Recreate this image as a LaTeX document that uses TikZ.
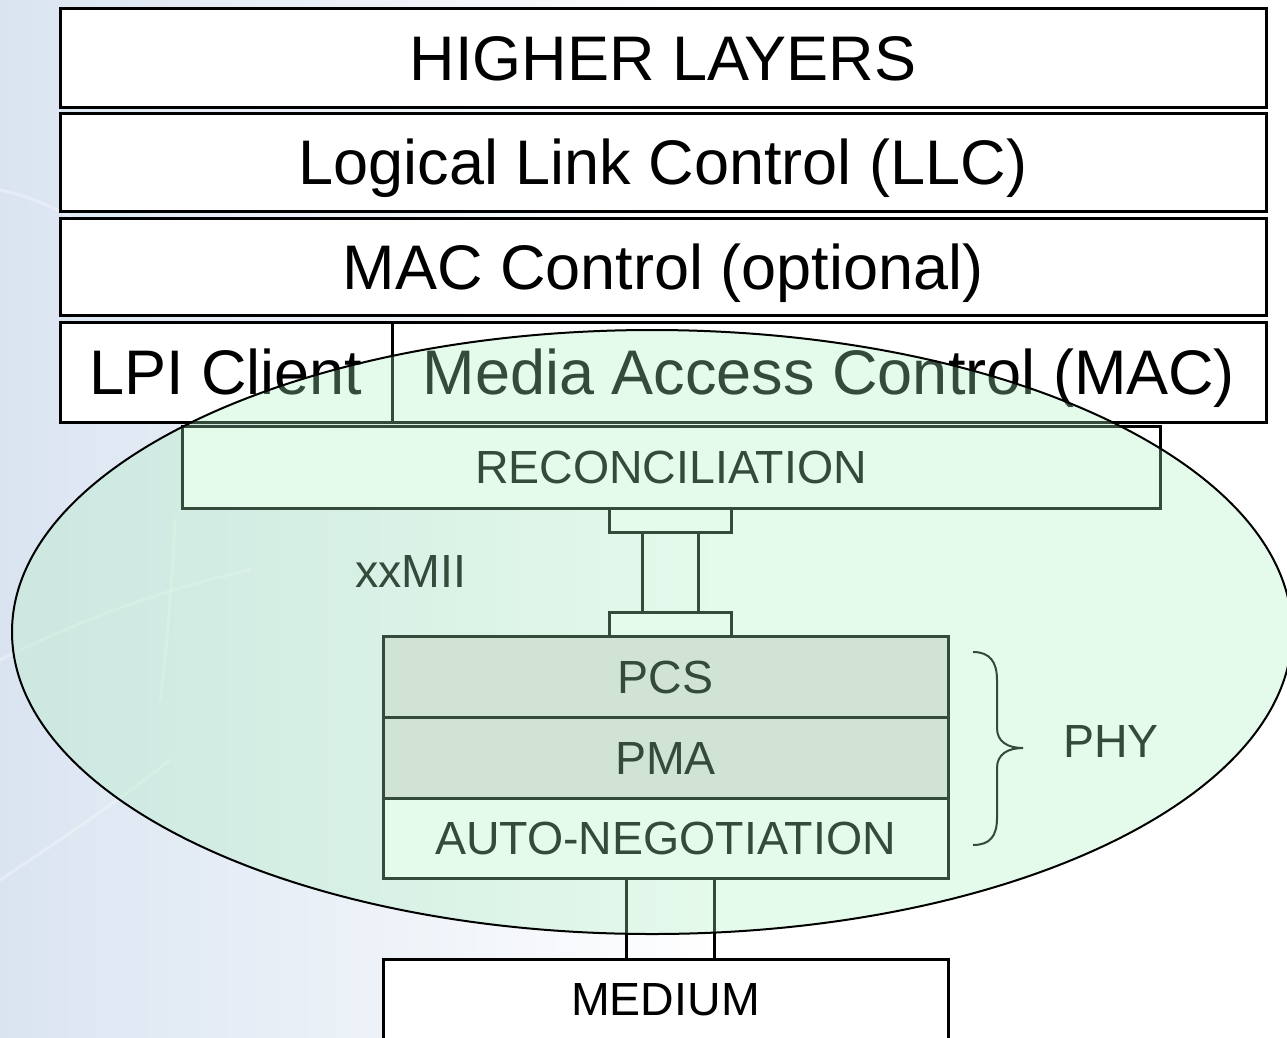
\documentclass[tikz,border=0pt]{standalone}
\usepackage{fontspec}
\setmainfont{Liberation Sans}
\usetikzlibrary{positioning}
\definecolor{bgblue}{RGB}{218,228,241}
\definecolor{ovgreen}{RGB}{171,239,190}
\definecolor{subgray}{RGB}{226,223,222}
\newcommand{\bigtxt}{\fontsize{63}{70}\selectfont}
\newcommand{\smalltxt}{\fontsize{46.5}{52}\selectfont}
\begin{document}
\begin{tikzpicture}[x=1pt, y=-1pt,
  lay/.style={draw=black, fill=white, line width=3pt, inner sep=0pt, outer sep=0pt,
        font=\bigtxt, text height=45pt, text depth=0pt},
  sub/.style={lay, font=\smalltxt, text height=33pt, minimum width=565pt, minimum height=81pt},
  pad/.style={draw=black, fill=white, line width=3pt, inner sep=0pt, outer sep=0pt,
        minimum width=122pt, minimum height=24pt},
  lbl/.style={font=\smalltxt, inner sep=0pt, anchor=base west},
  swoosh/.style={white, line width=3pt, opacity=0.3, line cap=round},
]
  \useasboundingbox (0,0) rectangle (1287,1037);
  \fill[white] (0,0) rectangle (1287,1037);
  \shade[left color=bgblue, right color=white] (0,0) rectangle (720,1037);
  \draw[swoosh] (0,190) .. controls (50,200) and (100,230) .. (140,270);
  \draw[swoosh] (0,660) .. controls (80,620) and (160,590) .. (250,570);
  \draw[swoosh] (0,880) .. controls (60,840) and (120,800) .. (170,760);
  \draw[swoosh] (175,520) .. controls (172,580) and (168,640) .. (160,700);

  % upper layers
  \node[lay, minimum width=1206pt, minimum height=99pt] (hl) at (663,57.5) {HIGHER LAYERS};
  \node[lay, minimum width=1206pt, minimum height=98pt] (llc) at (663,162) {Logical Link Control (LLC)};
  \node[lay, minimum width=1206pt, minimum height=97pt] (macc) at (663,266.5) {MAC Control (optional)};
  \node[lay, minimum width=332pt, minimum height=100pt] (lpi) at (226,372) {LPI Client};
  \node[lay, minimum width=874pt, minimum height=100pt] (mac) at (829,372) {Media Access Control (MAC)};

  % reconciliation and xxMII
  \node[lay, font=\smalltxt, text height=33pt, minimum width=978pt, minimum height=82pt] (rec) at (671,467) {RECONCILIATION};
  \node[pad] (padtop) at (670,520) {};
  \node[pad] (padbot) at (670,624) {};
  \draw[line width=3pt] ([xshift=-28pt]padtop.south) -- ([xshift=-28pt]padbot.north);
  \draw[line width=3pt] ([xshift=28pt]padtop.south) -- ([xshift=28pt]padbot.north);
  \node[lbl] (mii) at (355,587) {xxMII};

  % PHY sublayers
  \node[sub, fill=subgray] (pcs) at (665.5,676.5) {PCS};
  \node[sub, fill=subgray, below=0pt of pcs] (pma) {PMA};
  \node[sub, minimum height=80pt, below=0pt of pma] (auto) {AUTO-NEGOTIATION};
  \draw[line width=2pt] (973,652) .. controls (990,652) and (997,662) .. (997,680) -- (997,728)
    .. controls (997,742) and (1008,748) .. (1023,748)
    .. controls (1008,748) and (997,754) .. (997,768) -- (997,818)
    .. controls (997,836) and (990,845) .. (973,845);
  \node[lbl] (phy) at (1063,757) {PHY};

  % medium
  \node[sub, minimum height=80pt] (medium) at (665.5,999) {MEDIUM};
  \draw[line width=3pt] ([xshift=-39.5pt]auto.south) -- ([xshift=-39.5pt]medium.north);
  \draw[line width=3pt] ([xshift=48.5pt]auto.south) -- ([xshift=48.5pt]medium.north);

  % tinted overlay
  \path[fill=ovgreen, fill opacity=0.31, draw=black, line width=2pt]
    (652,632) ellipse [x radius=640pt, y radius=302pt];
\end{tikzpicture}
\end{document}
